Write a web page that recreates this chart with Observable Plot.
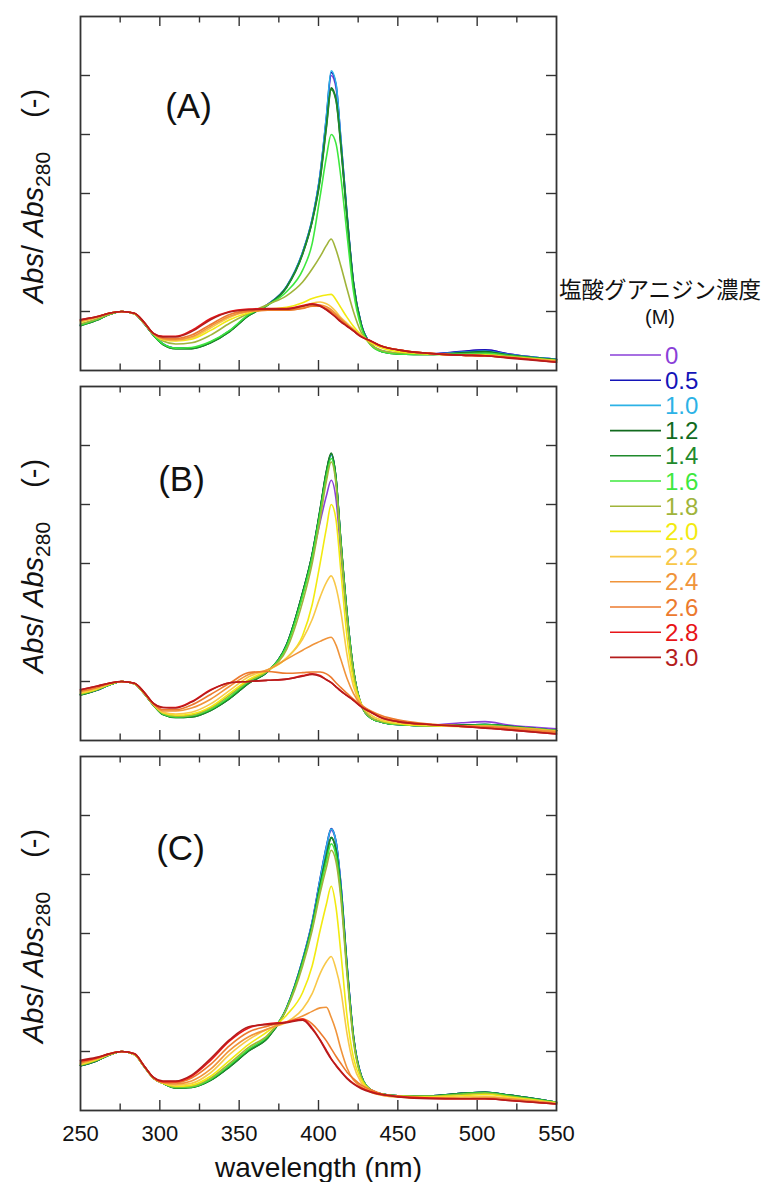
<!DOCTYPE html>
<html><head><meta charset="utf-8">
<script src="https://cdn.jsdelivr.net/npm/d3@7"></script>
<script src="https://cdn.jsdelivr.net/npm/@observablehq/plot@0.6"></script>
<style>
body{margin:0;background:#fff;}
#root{position:relative;width:764px;height:1182px;overflow:hidden;font-family:"Liberation Sans",Arial,sans-serif;background:#fff;}
.panel{position:absolute;left:0;}
#overlay{position:absolute;left:0;top:0;pointer-events:none;}
</style></head><body><div id="root"></div>
<script>
// ---- data ----
const wavelengths = [250,260,268,276,284,290,296,302,310,320,332,344,356,368,380,390,396,401,405,408,411,414,418,422,427,433,440,450,470,490,505,520,550];
const concentrations = ["0","0.5","1.0","1.2","1.4","1.6","1.8","2.0","2.2","2.4","2.6","2.8","3.0"];
const colors = ["#8a3fd8","#1414b8","#2cb2e6","#116a1e","#1f8a2c","#3ee83e","#a0b43a","#f2ea10","#f8c848","#f0943a","#ec7a2e","#e81418","#b41c1c"];
const panelA = [
 [0.77,0.86,0.95,1.00,0.96,0.80,0.60,0.45,0.38,0.38,0.48,0.67,0.94,1.12,1.42,2.00,2.55,3.30,4.25,5.00,4.80,3.90,2.62,1.50,0.78,0.45,0.33,0.29,0.28,0.32,0.35,0.28,0.19],
 [0.77,0.86,0.95,1.00,0.96,0.80,0.60,0.45,0.38,0.38,0.48,0.67,0.94,1.12,1.43,2.00,2.56,3.32,4.30,5.05,4.85,3.95,2.64,1.50,0.78,0.45,0.33,0.29,0.28,0.32,0.35,0.28,0.19],
 [0.77,0.86,0.95,1.00,0.96,0.80,0.60,0.45,0.38,0.38,0.48,0.67,0.94,1.12,1.43,2.01,2.57,3.33,4.32,5.08,4.87,3.96,2.65,1.50,0.78,0.45,0.33,0.29,0.28,0.31,0.33,0.27,0.19],
 [0.76,0.85,0.95,1.00,0.96,0.80,0.60,0.44,0.37,0.37,0.47,0.66,0.93,1.11,1.42,1.98,2.53,3.25,4.15,4.79,4.60,3.85,2.60,1.48,0.77,0.44,0.32,0.28,0.27,0.30,0.32,0.26,0.18],
 [0.76,0.85,0.95,1.00,0.96,0.80,0.60,0.44,0.37,0.37,0.47,0.66,0.93,1.11,1.41,1.97,2.52,3.22,4.12,4.76,4.58,3.82,2.58,1.47,0.76,0.44,0.32,0.28,0.27,0.29,0.31,0.26,0.18],
 [0.77,0.86,0.95,1.00,0.96,0.80,0.60,0.45,0.38,0.39,0.49,0.68,0.95,1.11,1.34,1.70,2.15,2.95,3.62,4.00,3.85,3.30,2.30,1.35,0.72,0.43,0.32,0.28,0.27,0.28,0.29,0.25,0.17],
 [0.79,0.87,0.95,1.00,0.96,0.81,0.62,0.50,0.45,0.47,0.60,0.80,0.97,1.12,1.27,1.50,1.72,1.93,2.12,2.23,2.05,1.78,1.38,1.00,0.64,0.44,0.34,0.30,0.28,0.27,0.27,0.24,0.17],
 [0.82,0.90,0.97,1.00,0.96,0.81,0.62,0.52,0.50,0.53,0.68,0.86,0.98,1.04,1.07,1.15,1.22,1.26,1.28,1.29,1.20,1.07,0.90,0.75,0.60,0.47,0.38,0.32,0.28,0.26,0.26,0.23,0.17],
 [0.83,0.90,0.97,1.00,0.96,0.81,0.62,0.53,0.51,0.55,0.72,0.90,1.00,1.03,1.03,1.08,1.14,1.16,1.13,1.08,1.00,0.90,0.80,0.70,0.59,0.49,0.41,0.35,0.29,0.26,0.25,0.22,0.16],
 [0.84,0.90,0.97,1.00,0.97,0.81,0.62,0.54,0.52,0.57,0.75,0.92,1.00,1.02,1.02,1.06,1.10,1.11,1.08,1.03,0.96,0.88,0.78,0.69,0.58,0.49,0.41,0.35,0.29,0.26,0.25,0.22,0.16],
 [0.85,0.91,0.97,1.00,0.97,0.82,0.62,0.55,0.54,0.60,0.78,0.95,1.01,1.02,1.02,1.05,1.09,1.09,1.05,1.00,0.93,0.86,0.77,0.68,0.58,0.50,0.41,0.35,0.29,0.26,0.25,0.22,0.15],
 [0.86,0.91,0.97,1.00,0.97,0.82,0.63,0.58,0.58,0.68,0.88,1.00,1.04,1.05,1.05,1.10,1.13,1.10,1.03,0.97,0.90,0.83,0.75,0.67,0.57,0.50,0.41,0.35,0.29,0.26,0.25,0.22,0.14],
 [0.86,0.91,0.97,1.00,0.97,0.82,0.63,0.57,0.57,0.66,0.86,0.99,1.03,1.04,1.04,1.09,1.12,1.09,1.03,0.97,0.90,0.83,0.75,0.67,0.57,0.50,0.41,0.35,0.29,0.26,0.25,0.21,0.14]
];
const panelB = [
 [0.78,0.85,0.94,1.00,0.96,0.80,0.60,0.45,0.40,0.41,0.52,0.72,0.98,1.17,1.62,2.48,3.10,3.70,4.15,4.41,4.10,3.20,2.05,1.18,0.60,0.39,0.31,0.27,0.26,0.30,0.32,0.26,0.20],
 [0.78,0.85,0.94,1.00,0.96,0.80,0.60,0.45,0.40,0.41,0.52,0.72,0.98,1.17,1.63,2.50,3.15,3.90,4.55,4.85,4.45,3.40,2.15,1.20,0.60,0.38,0.31,0.27,0.25,0.26,0.27,0.24,0.17],
 [0.78,0.85,0.94,1.00,0.96,0.80,0.60,0.45,0.40,0.41,0.52,0.72,0.98,1.17,1.63,2.50,3.14,3.88,4.53,4.84,4.44,3.40,2.15,1.20,0.60,0.38,0.31,0.27,0.25,0.26,0.27,0.24,0.17],
 [0.77,0.85,0.94,1.00,0.96,0.80,0.60,0.44,0.39,0.40,0.51,0.71,0.97,1.17,1.63,2.51,3.16,3.92,4.57,4.87,4.46,3.42,2.16,1.21,0.60,0.38,0.31,0.27,0.25,0.26,0.27,0.24,0.17],
 [0.77,0.85,0.94,1.00,0.96,0.80,0.60,0.44,0.39,0.40,0.51,0.71,0.97,1.17,1.63,2.50,3.15,3.90,4.56,4.86,4.45,3.41,2.15,1.20,0.60,0.38,0.31,0.27,0.25,0.26,0.27,0.24,0.17],
 [0.78,0.86,0.94,1.00,0.96,0.80,0.60,0.45,0.40,0.42,0.53,0.74,1.00,1.18,1.60,2.45,3.10,3.85,4.48,4.78,4.40,3.36,2.12,1.18,0.60,0.38,0.31,0.27,0.25,0.25,0.26,0.23,0.17],
 [0.79,0.86,0.95,1.00,0.96,0.80,0.60,0.46,0.41,0.43,0.55,0.77,1.01,1.18,1.55,2.35,3.00,3.75,4.40,4.72,4.35,3.30,2.05,1.15,0.60,0.39,0.32,0.28,0.25,0.25,0.25,0.23,0.17],
 [0.80,0.87,0.95,1.00,0.96,0.80,0.61,0.47,0.43,0.45,0.57,0.80,1.03,1.19,1.40,1.78,2.30,3.00,3.60,4.00,3.75,2.90,1.75,1.02,0.62,0.43,0.34,0.29,0.25,0.24,0.24,0.22,0.16],
 [0.81,0.88,0.96,1.00,0.96,0.81,0.61,0.48,0.45,0.48,0.62,0.85,1.08,1.20,1.40,1.72,2.05,2.43,2.68,2.79,2.60,2.20,1.45,0.92,0.60,0.43,0.35,0.30,0.26,0.24,0.24,0.21,0.15],
 [0.83,0.89,0.96,1.00,0.97,0.81,0.62,0.50,0.50,0.55,0.70,0.92,1.12,1.20,1.38,1.53,1.62,1.68,1.73,1.75,1.62,1.38,1.05,0.80,0.60,0.48,0.40,0.33,0.27,0.25,0.24,0.22,0.15],
 [0.84,0.90,0.97,1.00,0.97,0.82,0.62,0.52,0.52,0.60,0.78,0.97,1.15,1.17,1.14,1.15,1.16,1.16,1.13,1.07,0.98,0.90,0.80,0.70,0.60,0.50,0.42,0.35,0.28,0.25,0.23,0.20,0.13],
 [0.86,0.92,0.97,1.00,0.97,0.82,0.63,0.56,0.56,0.66,0.86,0.98,1.00,1.02,1.04,1.10,1.13,1.10,1.03,0.98,0.91,0.84,0.76,0.68,0.57,0.48,0.38,0.32,0.27,0.24,0.21,0.18,0.11],
 [0.86,0.92,0.97,1.00,0.97,0.82,0.63,0.56,0.55,0.65,0.85,0.98,1.00,1.02,1.04,1.09,1.12,1.09,1.03,0.98,0.91,0.84,0.76,0.68,0.57,0.48,0.38,0.32,0.27,0.24,0.21,0.18,0.11]
];
const panelC = [
 [0.76,0.84,0.94,1.00,0.95,0.75,0.55,0.46,0.39,0.40,0.52,0.75,1.02,1.24,1.75,2.55,3.18,3.90,4.45,4.75,4.55,3.85,2.45,1.27,0.59,0.35,0.28,0.25,0.25,0.29,0.31,0.26,0.14],
 [0.76,0.84,0.94,1.00,0.95,0.75,0.55,0.46,0.39,0.40,0.52,0.75,1.02,1.24,1.75,2.56,3.20,3.93,4.48,4.78,4.57,3.87,2.46,1.27,0.59,0.35,0.28,0.25,0.25,0.29,0.31,0.26,0.14],
 [0.76,0.84,0.94,1.00,0.95,0.75,0.55,0.46,0.39,0.40,0.52,0.75,1.02,1.24,1.75,2.56,3.19,3.92,4.47,4.77,4.56,3.86,2.46,1.27,0.59,0.35,0.28,0.25,0.25,0.29,0.31,0.26,0.14],
 [0.76,0.84,0.94,1.00,0.95,0.75,0.55,0.46,0.38,0.39,0.51,0.74,1.01,1.23,1.74,2.53,3.14,3.82,4.32,4.63,4.42,3.78,2.42,1.25,0.58,0.35,0.28,0.25,0.25,0.29,0.31,0.26,0.14],
 [0.76,0.84,0.94,1.00,0.95,0.75,0.55,0.46,0.38,0.39,0.51,0.74,1.01,1.23,1.74,2.52,3.13,3.81,4.31,4.62,4.41,3.77,2.41,1.25,0.58,0.35,0.28,0.25,0.25,0.29,0.31,0.26,0.14],
 [0.77,0.85,0.94,1.00,0.95,0.75,0.55,0.46,0.39,0.40,0.53,0.77,1.04,1.26,1.74,2.50,3.10,3.75,4.22,4.52,4.32,3.70,2.36,1.22,0.57,0.35,0.28,0.25,0.24,0.28,0.30,0.25,0.14],
 [0.77,0.85,0.94,1.00,0.95,0.75,0.55,0.46,0.40,0.41,0.55,0.80,1.07,1.28,1.72,2.45,3.05,3.68,4.12,4.41,4.22,3.62,2.30,1.18,0.56,0.35,0.28,0.25,0.24,0.27,0.29,0.24,0.13],
 [0.78,0.86,0.95,1.00,0.95,0.75,0.55,0.46,0.41,0.43,0.58,0.85,1.12,1.34,1.62,2.00,2.45,3.05,3.50,3.80,3.45,2.70,1.60,0.90,0.52,0.34,0.27,0.24,0.23,0.25,0.27,0.23,0.13],
 [0.79,0.87,0.95,1.00,0.95,0.75,0.55,0.47,0.43,0.46,0.64,0.95,1.20,1.38,1.50,1.72,1.98,2.32,2.52,2.61,2.40,2.05,1.30,0.78,0.47,0.32,0.26,0.23,0.22,0.23,0.24,0.21,0.12],
 [0.80,0.88,0.96,1.00,0.96,0.76,0.55,0.47,0.45,0.50,0.70,1.02,1.25,1.38,1.50,1.60,1.68,1.74,1.75,1.58,1.35,1.05,0.72,0.52,0.40,0.31,0.26,0.23,0.21,0.21,0.22,0.20,0.12],
 [0.82,0.88,0.96,1.00,0.96,0.76,0.56,0.48,0.47,0.55,0.78,1.10,1.33,1.43,1.50,1.55,1.47,1.32,1.18,1.05,0.92,0.80,0.65,0.54,0.43,0.35,0.28,0.24,0.21,0.20,0.20,0.18,0.11],
 [0.84,0.89,0.96,1.00,0.96,0.76,0.56,0.49,0.49,0.58,0.85,1.18,1.40,1.47,1.50,1.55,1.40,1.20,1.02,0.88,0.77,0.67,0.55,0.46,0.38,0.32,0.27,0.24,0.21,0.20,0.20,0.17,0.11],
 [0.85,0.90,0.96,1.00,0.96,0.76,0.56,0.50,0.50,0.60,0.88,1.20,1.42,1.46,1.49,1.53,1.38,1.19,1.00,0.87,0.76,0.66,0.54,0.45,0.37,0.31,0.27,0.23,0.20,0.20,0.20,0.17,0.11]
];
const panelLabels = ["(A)","(B)","(C)"];
const xMajorTicks = [300,350,400,450,500];
const xMinorTicks = [275,325,375,425,475,525];
const xTickLabels = [250,300,350,400,450,500,550];
const yTicks = [1,2,3,4,5];
const legendTitle = "塩酸グアニジン濃度";
const legendUnit = "(M)";
const xTitle = "wavelength (nm)";

// ---- drawing ----
const root = document.getElementById("root");
const FW = 476, FH = 354;
const tickColor = "#333";
const panelTops = [14, 384, 754];
const labelPos = [[108,90],[101,93],[100,92]];

function makePanel(rows, idx) {
  const isBottom = idx === 2;
  const data = rows.flatMap((row, i) => row.map((v, j) => ({wl: wavelengths[j], v, c: concentrations[i]})));
  const marks = [
    Plot.line(data, {x: "wl", y: "v", z: "c", stroke: "c", strokeWidth: 1.6, curve: "monotone-x"}),
    Plot.tickX(xMajorTicks, {x: d => d, insetBottom: FH - 10, stroke: tickColor, strokeWidth: 1.4}),
    Plot.tickX(xMinorTicks, {x: d => d, insetBottom: FH - 6.5, stroke: tickColor, strokeWidth: 1.4}),
    Plot.tickX(xMajorTicks, {x: d => d, insetTop: FH - 10, stroke: tickColor, strokeWidth: 1.4}),
    Plot.tickX(xMinorTicks, {x: d => d, insetTop: FH - 6.5, stroke: tickColor, strokeWidth: 1.4}),
    Plot.tickY(yTicks, {y: d => d, insetRight: FW - 10, stroke: tickColor, strokeWidth: 1.4}),
    Plot.tickY(yTicks, {y: d => d, insetLeft: FW - 10, stroke: tickColor, strokeWidth: 1.4}),
    Plot.frame({stroke: tickColor, strokeWidth: 1.8}),
    Plot.text([panelLabels[idx]], {frameAnchor: "top-left", dx: labelPos[idx][0], dy: labelPos[idx][1], fontSize: 35, textAnchor: "middle", lineAnchor: "middle", fill: "#111"})
  ];
  if (isBottom) {
    marks.push(Plot.axisX({ticks: xTickLabels, tickSize: 0, tickPadding: 15, fontSize: 22, label: null, fill: "#111"}));
    marks.push(Plot.text([xTitle], {frameAnchor: "bottom", dy: 58, fontSize: 28, textAnchor: "middle", lineAnchor: "middle", fill: "#111"}));
  }
  const svg = Plot.plot({
    width: 600,
    height: FH + 2 + (isBottom ? 72 : 2),
    marginLeft: 80, marginRight: 44, marginTop: 2, marginBottom: isBottom ? 72 : 2,
    x: {domain: [250, 550], axis: isBottom ? undefined : null},
    y: {domain: [0, 6], axis: null},
    color: {domain: concentrations, range: colors},
    style: {fontFamily: '"Liberation Sans", Arial, sans-serif', background: "transparent", overflow: "visible"},
    marks
  });
  svg.classList.add("panel");
  svg.style.top = panelTops[idx] + "px";
  root.appendChild(svg);
}
[panelA, panelB, panelC].forEach((rows, i) => makePanel(rows, i));

// overlay: y-axis titles and legend
const ov = d3.select(root).append("svg").attr("id", "overlay").attr("width", 764).attr("height", 1182)
  .style("font-family", '"Liberation Sans", Arial, sans-serif');
[0, 370, 740].forEach(off => {
  const t = ov.append("text").attr("transform", `translate(43,${303 + off}) rotate(-90)`).attr("font-size", 29).attr("fill", "#111");
  t.append("tspan").attr("font-style", "italic").text("Abs");
  t.append("tspan").text("/ ");
  t.append("tspan").attr("font-style", "italic").text("Abs");
  t.append("tspan").attr("font-size", 21).attr("dy", 7).text("280");
  t.append("tspan").attr("dy", -7).attr("dx", 34).text("(-)");
});
ov.append("text").attr("x", 660).attr("y", 288).attr("text-anchor", "middle").attr("dominant-baseline", "central")
  .attr("font-family", '"Noto Sans CJK JP", sans-serif').attr("font-size", 22.5).attr("fill", "#111").text(legendTitle);
ov.append("text").attr("x", 660).attr("y", 317).attr("text-anchor", "middle").attr("dominant-baseline", "central")
  .attr("font-size", 20).attr("fill", "#111").text(legendUnit);
concentrations.forEach((c, i) => {
  const y = 355 + i * 25.2;
  ov.append("line").attr("x1", 610).attr("x2", 661).attr("y1", y).attr("y2", y).attr("stroke", colors[i]).attr("stroke-width", 1.6);
  ov.append("text").attr("x", 665).attr("y", y).attr("dominant-baseline", "central").attr("font-size", 24).attr("fill", colors[i]).text(c);
});
</script></body></html>
